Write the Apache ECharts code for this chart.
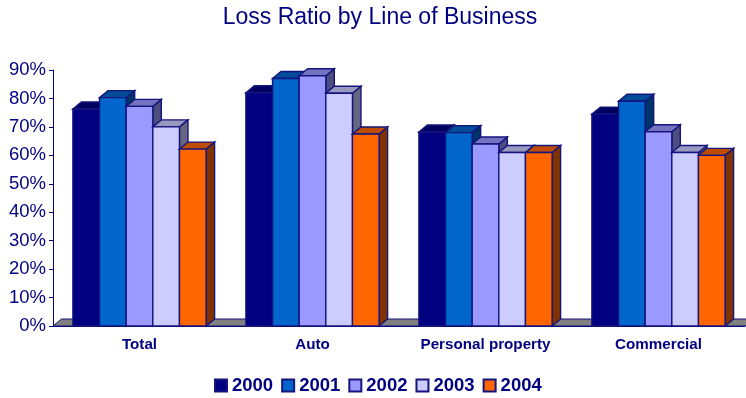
<!DOCTYPE html>
<html>
<head>
<meta charset="utf-8">
<style>html,body{margin:0;padding:0;background:#fff}#chart{width:746px;height:398px}</style>
<script src="https://cdn.jsdelivr.net/npm/echarts@6/dist/echarts.min.js"></script>
</head>
<body>
<div id="chart"></div>
<script>
// Loss ratio (%) per line of business, one list per year
const categories = ['Total', 'Auto', 'Personal property', 'Commercial'];
const years = ['2000', '2001', '2002', '2003', '2004'];
const values2000 = [76.3, 82, 68.2, 74.5];
const values2001 = [80.3, 87, 68, 79];
const values2002 = [77.2, 88, 64, 68.3];
const values2003 = [70, 81.8, 61, 61];
const values2004 = [62.2, 67.5, 61, 60];
const yearValues = [values2000, values2001, values2002, values2003, values2004];
const yearColors = ['#000080', '#0066CC', '#9999FF', '#CCCCFF', '#FF6600'];
const yearTops = ['#000060', '#004C99', '#7373BF', '#9999BF', '#BF4C00'];
const yearSides = ['#000040', '#003366', '#4D4D80', '#666680', '#803300'];

const INK = '#000080';
const DEPTH_X = 8.5, DEPTH_Y = 7;

// Shared drawing of a prism: front face, top face and right-hand side face
function prism(x0, x1, yTop, yBase, s) {
  const edge = { stroke: '#14147E', lineWidth: 1.4 };
  const poly = (points, fill) => ({
    type: 'polygon', shape: { points }, style: Object.assign({ fill }, edge)
  });
  return {
    type: 'group',
    children: [
      poly([[x1, yTop], [x1 + DEPTH_X, yTop - DEPTH_Y], [x1 + DEPTH_X, yBase - DEPTH_Y], [x1, yBase]], yearSides[s]),
      poly([[x0, yTop], [x0 + DEPTH_X, yTop - DEPTH_Y], [x1 + DEPTH_X, yTop - DEPTH_Y], [x1, yTop]], yearTops[s]),
      poly([[x0, yTop], [x1, yTop], [x1, yBase], [x0, yBase]], yearColors[s])
    ]
  };
}

const barSeries = years.map((year, s) => ({
  name: year,
  type: 'custom',
  z: 3 + s,
  clip: false,
  itemStyle: { color: yearColors[s], borderColor: '#14147E', borderWidth: 1 },
  encode: { x: 0, y: 1 },
  data: categories.map((c, i) => [i, yearValues[s][i]]),
  renderItem(params, api) {
    const top = api.coord([api.value(0), api.value(1)]);
    const base = api.coord([api.value(0), 0]);
    const w = api.size([1, 0])[0] * 0.154;
    const x0 = top[0] + (s - 2.5) * w;
    return prism(x0, x0 + w, top[1], base[1], s);
  }
}));

// Grey floor of the 3D plot, running along the whole category axis
const floorSeries = {
  name: 'floor',
  type: 'custom',
  z: 1,
  clip: false,
  silent: true,
  data: [[0, 0]],
  encode: { x: 0, y: 1 },
  renderItem(params, api) {
    const c = params.coordSys;
    const yBase = api.coord([0, 0])[1];
    return {
      type: 'polygon',
      shape: { points: [[c.x, yBase], [c.x + DEPTH_X, yBase - DEPTH_Y], [c.x + c.width + DEPTH_X, yBase - DEPTH_Y], [c.x + c.width, yBase]] },
      style: { fill: '#808080', stroke: '#14147E', lineWidth: 1 }
    };
  }
};

const chart = echarts.init(document.getElementById('chart'), null, { renderer: 'canvas' });
chart.setOption({
  animation: false,
  backgroundColor: '#fff',
  title: {
    text: 'Loss Ratio by Line of Business',
    left: 375,
    top: 1,
    textAlign: 'center',
    textStyle: { color: INK, fontFamily: 'Liberation Sans', fontWeight: 'normal', fontSize: 23 }
  },
  legend: {
    data: years,
    left: 209,
    top: 371,
    itemWidth: 12,
    itemHeight: 12,
    itemGap: 8,
    icon: 'rect',
    textStyle: { color: INK, fontFamily: 'Liberation Sans', fontWeight: 'bold', fontSize: 18.5 }
  },
  grid: { left: 53, right: 1, top: 70, height: 256 },
  xAxis: {
    type: 'category',
    data: categories,
    axisLine: { lineStyle: { color: INK, width: 1 } },
    axisTick: { alignWithLabel: false, length: 4, lineStyle: { color: INK } },
    axisLabel: { color: INK, fontFamily: 'Liberation Sans', fontWeight: 'bold', fontSize: 15.2, margin: 11 }
  },
  yAxis: {
    type: 'value',
    min: 0,
    max: 90,
    interval: 10,
    axisLine: { show: true, lineStyle: { color: INK, width: 1 } },
    axisTick: { show: true, length: 4, lineStyle: { color: INK } },
    splitLine: { show: false },
    axisLabel: { color: INK, fontFamily: 'Liberation Sans', fontSize: 18.5, margin: 7, formatter: '{value}%' }
  },
  series: [floorSeries].concat(barSeries)
});
</script>
</body>
</html>
